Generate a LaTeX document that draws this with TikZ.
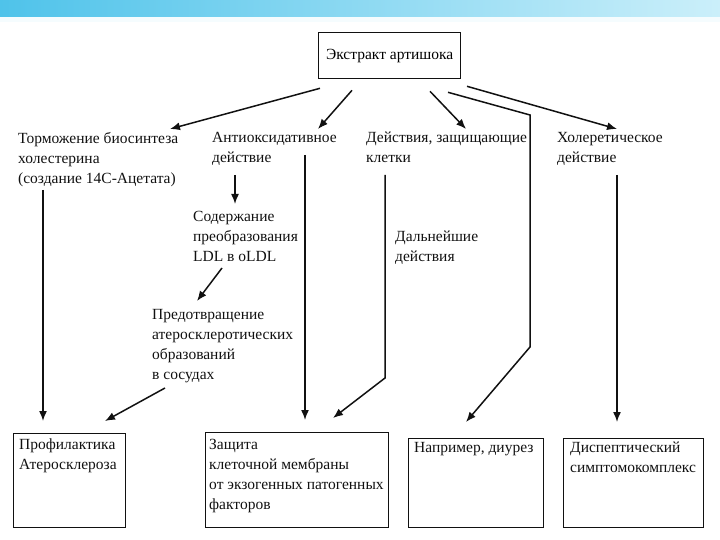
\documentclass[tikz,border=0pt]{standalone}
\usepackage{fontspec}
\setmainfont{Liberation Serif}
\usetikzlibrary{arrows.meta,positioning,calc}
\definecolor{bandl}{HTML}{4FC3EA}
\definecolor{bandm}{HTML}{93DAF3}
\definecolor{bandr}{HTML}{CBEFFA}
\definecolor{ink}{HTML}{111111}
\tikzset{
  box/.style={draw=ink, line width=1.3pt, anchor=north west, inner sep=0pt},
  txt/.style={anchor=north west, inner sep=0pt, align=left, text=ink, font=\fontsize{15.5}{20}\selectfont},
  ar/.style={-{Latex[length=10pt,width=8pt]}, line width=1.5pt, draw=ink},
}

\begin{document}
\begin{tikzpicture}[x=1pt,y=-1pt]
  \useasboundingbox (0,0) rectangle (720,540);
  \fill[left color=bandl, middle color=bandm, right color=bandr] (0,0) rectangle (720,17);
  \fill[cyan!4] (0,17) rectangle (720,22);

  % top
  \node[box, minimum width=142pt, minimum height=46pt, font=\fontsize{15.5}{20}\selectfont] (top) at (318,32) {Экстракт артишока};

  % effects
  \node[txt] (chol) at (18,132) {Торможение биосинтеза\\холестерина\\(создание 14С-Ацетата)};
  \node[txt] (anti) at (212,132) {Антиоксидативное\\действие};
  \node[txt] (prot) at (366,132) {Действия, защищающие\\клетки};
  \node[txt] (chole) at (557,132) {Холеретическое\\действие};
  \node[txt] (ldl) at (193,211) {Содержание\\преобразования\\LDL в oLDL};
  \node[txt] (prev) at (152,309) {Предотвращение\\атеросклеротических\\образований\\в сосудах};
  \node[txt] (further) at (395,231) {Дальнейшие\\действия};

  % results
  \node[box, minimum width=112pt, minimum height=94pt] (prof) at (13,433) {};
  \node[txt] (proft) at ($(prof.north west)+(6,6)$) {Профилактика\\Атеросклероза};
  \node[box, minimum width=183pt, minimum height=95pt] (memb) at (205,432) {};
  \node[txt] (membt) at ($(memb.north west)+(4,7)$) {Защита\\клеточной мембраны\\от экзогенных патогенных\\факторов};
  \node[box, minimum width=135pt, minimum height=89pt] (diur) at (408,438) {};
  \node[txt] (diurt) at ($(diur.north west)+(6,4)$) {Например, диурез};
  \node[box, minimum width=140pt, minimum height=89pt] (dysp) at (563,438) {};
  \node[txt] (dyspt) at ($(dysp.north west)+(7,4)$) {Диспептический\\симптомокомплекс};

  \coordinate (k1) at (530,115);
  \coordinate (k2) at (530,347);
  \coordinate (k3) at (385,378);

  \draw[ar] ($(top.south west)+(2,9)$) -- ($(chol.north west)+(152,-3)$);
  \draw[ar] ($(top.south west)+(34,11)$) -- ($(anti.north west)+(106,-3)$);
  \draw[ar] ($(top.south west)+(112,12)$) -- ($(prot.north west)+(100,-3)$);
  \draw[ar] ($(top.south west)+(130,13)$) -- (k1) -- (k2) -- ($(diur.north west)+(58,-16)$);
  \draw[ar] ($(top.south west)+(149,7)$) -- ($(chole.north west)+(60,-3)$);

  \draw[ar] ($(chol.north west)+(25,58)$) -- ($(prof.north west)+(30,-12)$);
  \draw[ar] ($(anti.north west)+(23,43)$) -- ($(ldl.north west)+(42,-7)$);
  \draw[ar] ($(anti.north west)+(93,23)$) -- ($(memb.north west)+(100,-12)$);
  \draw[ar] ($(ldl.north west)+(29,57)$) -- ($(prev.north west)+(45,-8)$);
  \draw[ar] ($(prev.north west)+(13,79)$) -- ($(prof.north west)+(92,-12)$);
  \draw[ar] ($(prot.north west)+(19,43)$) -- (k3) -- ($(memb.north west)+(128,-14)$);
  \draw[ar] ($(chole.north west)+(60,43)$) -- ($(dysp.north west)+(54,-16)$);
\end{tikzpicture}
\end{document}
